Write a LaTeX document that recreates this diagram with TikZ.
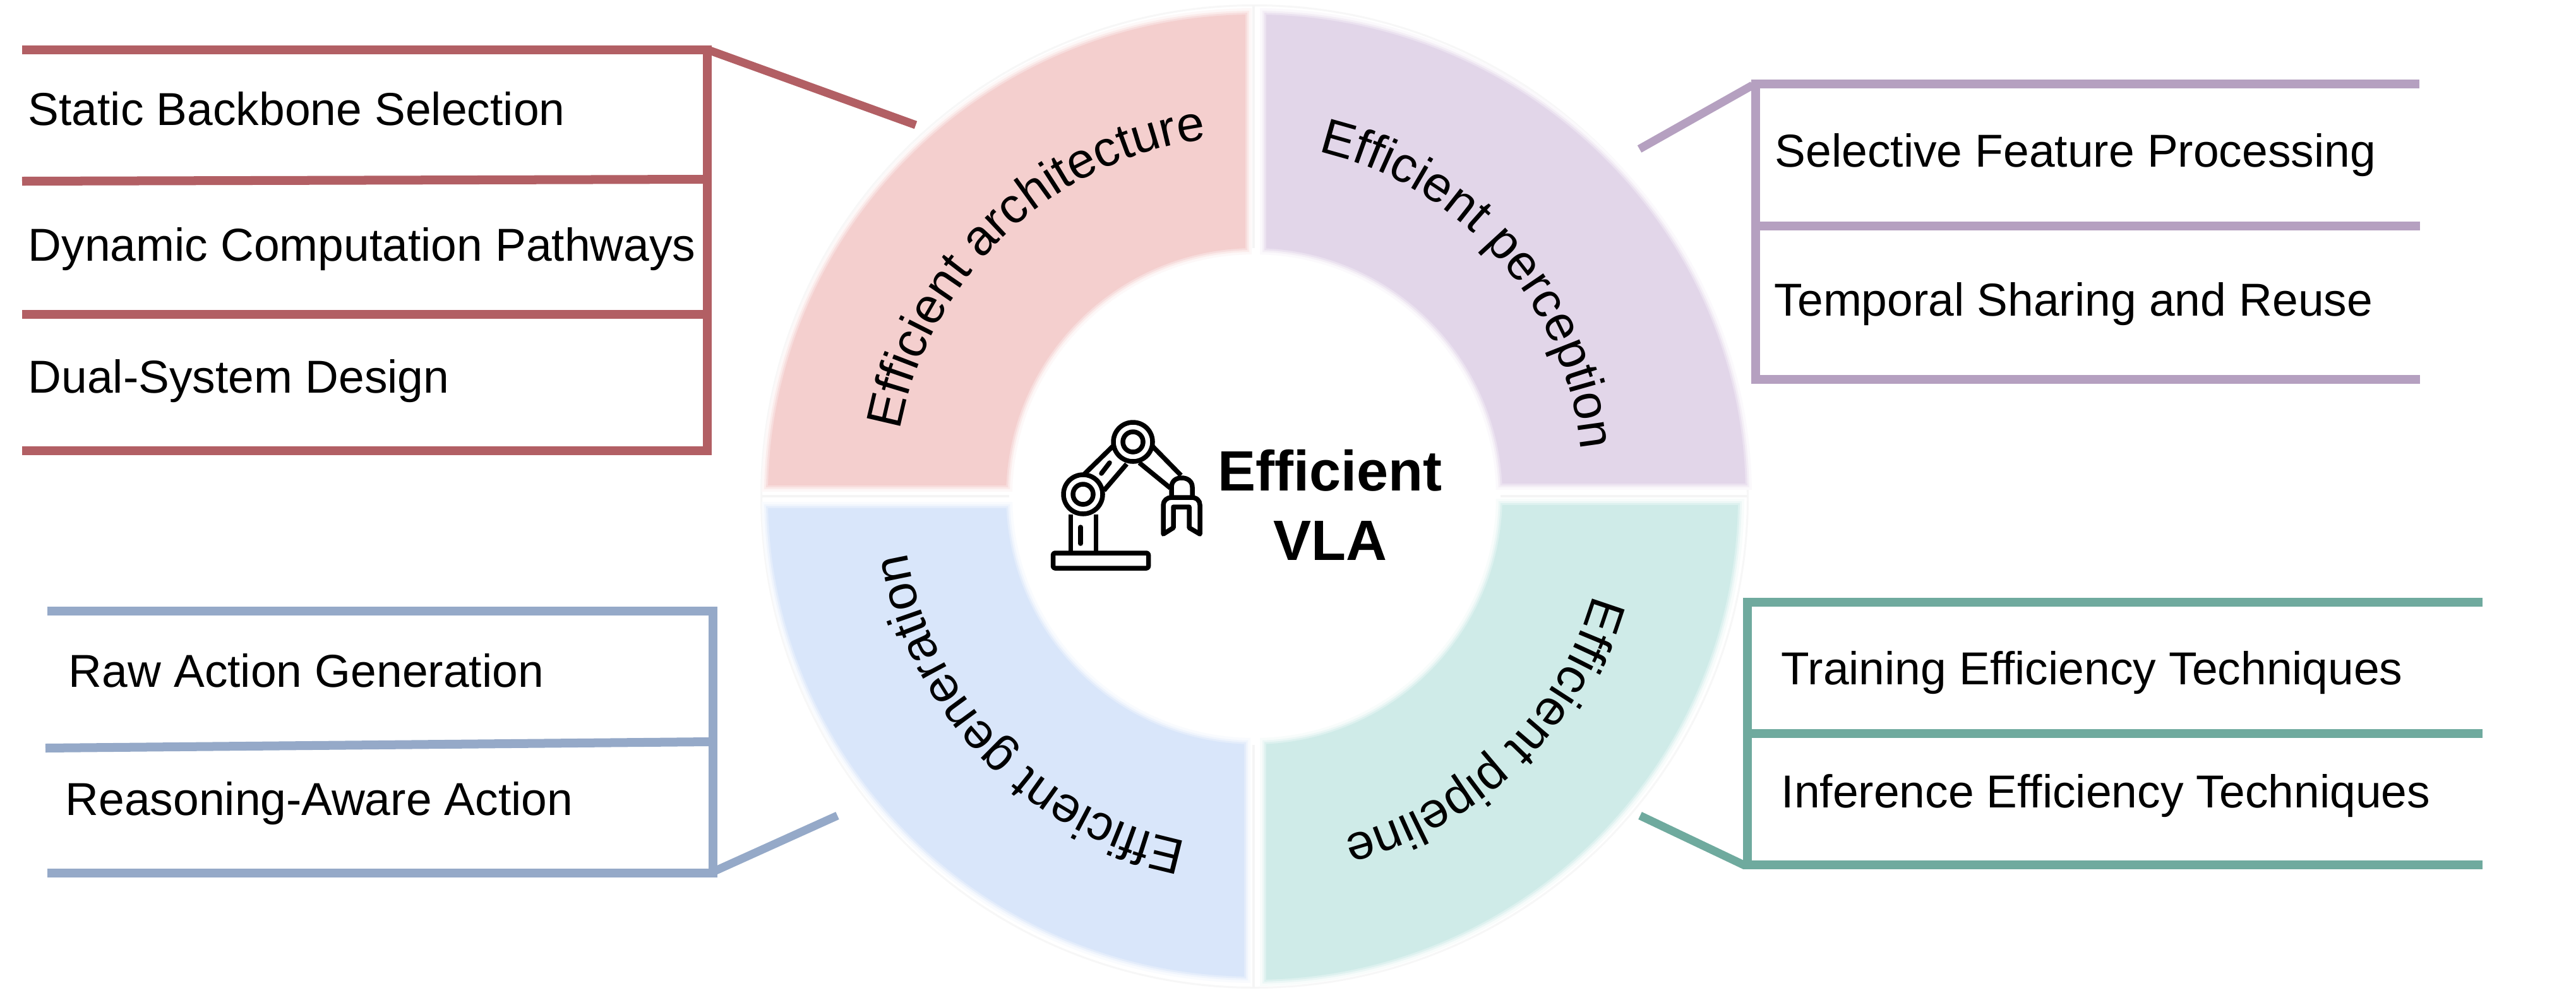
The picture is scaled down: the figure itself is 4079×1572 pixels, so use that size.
\documentclass[tikz,border=0pt]{standalone}
\usepackage{fontspec}
\setmainfont{Liberation Sans}
\usetikzlibrary{decorations.text}
\definecolor{redL}{HTML}{B25F64}
\definecolor{purL}{HTML}{B5A0C0}
\definecolor{bluL}{HTML}{95A9C8}
\definecolor{grnL}{HTML}{6FAA9E}
\definecolor{redF}{HTML}{F4CFCE}
\definecolor{purF}{HTML}{E2D6E9}
\definecolor{bluF}{HTML}{D9E6FA}
\definecolor{grnF}{HTML}{CFEBE8}
\newcommand\ringfont{\fontsize{22.5}{27}\selectfont}
% #1-#4 quadrant box, #5/#6 outer x/y radius, #7 inner radius, #8 colour
\newcommand\sectorband[8]{%
  \foreach \bl/\pc in {10/15,6/40,3/70,0/100}{%
    \begin{scope}
      \clip (#1-\bl,#2-\bl) rectangle (#3+\bl,#4+\bl);
      \fill[#8!\pc!white,even odd rule] (1986,786)
        ellipse[x radius=#5+\bl,y radius=#6+\bl] circle[radius=#7-\bl];
    \end{scope}}}
\newcommand\ringtext[5]{% cx cy r start end, text last
  \path[decorate,decoration={text along path,text={|\ringfont|#5}}]
    ([shift={(#1)}]#3:#2) arc[start angle=#3,end angle=#4,radius=#2];}
\tikzset{
  item/.style={anchor=base west,inner sep=0pt,font=\fontsize{20.8}{25}\selectfont},
  title/.style={anchor=base,inner sep=0pt,font=\fontsize{25.6}{30}\selectfont\bfseries},
  bar/.style={line width=0.14cm,line cap=butt},
  faint/.style={draw=black!4,line width=0.04cm},
  robot/.style={draw=black,line width=0.075cm,line join=round}
}
\begin{document}
\begin{tikzpicture}[x=0.01cm,y=-0.01cm]
\useasboundingbox (0,0) rectangle (4079,1572);
\fill[white] (0,0) rectangle (4079,1572);
% faint guide ring
\draw[draw=black!3,line width=0.03cm] (1986.5,786.5) ellipse[x radius=781,y radius=778];
\draw[faint] (1985,8) -- (1985,393);
\draw[faint] (1985,1180) -- (1985,1565);
\draw[faint] (1206,786) -- (1598,786);
\draw[faint] (2376,786) -- (2767,786);
% sectors
\sectorband{1100}{0}{1972}{768}{770}{763}{393}{redF}
\sectorband{2005}{0}{2900}{765}{778}{763}{393}{purF}
\sectorband{1100}{805}{1970}{1572}{770}{761}{393}{bluF}
\sectorband{2005}{800}{2900}{1572}{766}{766}{393}{grnF}
% ring labels
\ringtext{1986,786}{571}{190.5}{285}{Efficient architecture}
\ringtext{1966,766}{540}{-77}{25}{Efficient perception}
\ringtext{1992,790}{552}{16}{105}{Efficient pipeline}
\ringtext{1986,786}{557}{101.1}{190}{Efficient generation}
% red group
\coordinate (r1l) at (35,79);   \coordinate (r1r) at (1127,79);
\coordinate (r2l) at (35,287);  \coordinate (r2r) at (1113,284);
\coordinate (r3l) at (35,498);  \coordinate (r3r) at (1113,498);
\coordinate (r4l) at (35,714);  \coordinate (r4r) at (1127,714);
\coordinate (rvt) at (1120,72); \coordinate (rvb) at (1120,721);
\coordinate (rla) at (1124,80); \coordinate (rlb) at (1450,198);
\draw[bar,redL] (r1l)--(r1r); \draw[bar,redL] (r2l)--(r2r);
\draw[bar,redL] (r3l)--(r3r); \draw[bar,redL] (r4l)--(r4r);
\draw[bar,redL] (rvt)--(rvb); \draw[bar,redL,line width=0.13cm] (rla)--(rlb);
\node[item] (t1) at (44,198) {Static Backbone Selection};
\node[item] (t2) at (44,413) {Dynamic Computation Pathways};
\node[item] (t3) at (44,622) {Dual-System Design};
% purple group
\coordinate (p1l) at (2773,133); \coordinate (p1r) at (3831,133);
\coordinate (p2l) at (2780,358); \coordinate (p2r) at (3832,358);
\coordinate (p3l) at (2773,601); \coordinate (p3r) at (3832,601);
\coordinate (pvt) at (2780,126); \coordinate (pvb) at (2780,608);
\coordinate (pla) at (2775,135); \coordinate (plb) at (2596,236);
\draw[bar,purL] (p1l)--(p1r); \draw[bar,purL] (p2l)--(p2r);
\draw[bar,purL] (p3l)--(p3r); \draw[bar,purL] (pvt)--(pvb);
\draw[bar,purL,line width=0.13cm] (pla)--(plb);
\node[item] (t4) at (2810,264) {Selective Feature Processing};
\node[item] (t5) at (2809,500) {Temporal Sharing and Reuse};
% green group
\coordinate (g1l) at (2760,954);  \coordinate (g1r) at (3931,954);
\coordinate (g2l) at (2767,1162); \coordinate (g2r) at (3931,1162);
\coordinate (g3l) at (2760,1370); \coordinate (g3r) at (3931,1370);
\coordinate (gvt) at (2767,947);  \coordinate (gvb) at (2767,1377);
\coordinate (gla) at (2763,1371); \coordinate (glb) at (2597,1292);
\draw[bar,grnL] (g1l)--(g1r); \draw[bar,grnL] (g2l)--(g2r);
\draw[bar,grnL] (g3l)--(g3r); \draw[bar,grnL] (gvt)--(gvb);
\draw[bar,grnL,line width=0.13cm] (gla)--(glb);
\node[item] (t6) at (2820,1084) {Training Efficiency Techniques};
\node[item] (t7) at (2820,1279) {Inference Efficiency Techniques};
% blue group
\coordinate (b1l) at (75,968);   \coordinate (b1r) at (1136,968);
\coordinate (b2l) at (72,1185);  \coordinate (b2r) at (1122,1175);
\coordinate (b3l) at (75,1383);  \coordinate (b3r) at (1130,1383);
\coordinate (bvt) at (1129,961); \coordinate (bvb) at (1129,1390);
\coordinate (bla) at (1129,1381);\coordinate (blb) at (1326,1292);
\draw[bar,bluL] (b1l)--(b1r); \draw[bar,bluL] (b2l)--(b2r);
\draw[bar,bluL] (b3l)--(b3r); \draw[bar,bluL] (bvt)--(bvb);
\draw[bar,bluL,line width=0.13cm] (bla)--(blb);
\node[item] (t8) at (108,1088) {Raw Action Generation};
\node[item] (t9) at (103,1291) {Reasoning-Aware Action};
% centre title
\node[title] (c1) at (2106,777) {Efficient};
\node[title] (c2) at (2106,887) {VLA};
% robot arm icon
\draw[robot,rounded corners=0.03cm] (1667.5,876) rectangle (1818.5,900);
\draw[robot] (1695.5,815) -- (1695.5,873);
\draw[robot] (1735.5,815) -- (1735.5,873);
\draw[robot,line cap=round] (1711,835) -- (1711,861);
\draw[robot] (1715,783) circle[radius=31];
\draw[robot] (1715,783) circle[radius=16];
\draw[robot] (1794,700) circle[radius=31];
\draw[robot] (1794,700) circle[radius=16];
\draw[robot] (1716,752) -- (1762,707);
\draw[robot] (1748,777) -- (1784,735);
\draw[robot,line cap=round] (1744,750) -- (1757,733);
\draw[robot] (1825,707) -- (1870,753);
\draw[robot] (1804,733) -- (1853,773);
\draw[robot] (1855,785) -- (1855,772) .. controls (1855,762) and (1862,757) .. (1871,757)
  .. controls (1880,757) and (1888,762) .. (1888,772) -- (1888,785);
\draw[robot] (1842,846) -- (1842,800) .. controls (1842,793) and (1848,788) .. (1855,788)
  -- (1886,788) .. controls (1895,788) and (1900,793) .. (1900,800) -- (1900,846)
  -- (1883,836) -- (1883,803) -- (1858,803) -- (1858,836) -- cycle;
\end{tikzpicture}
\end{document}
